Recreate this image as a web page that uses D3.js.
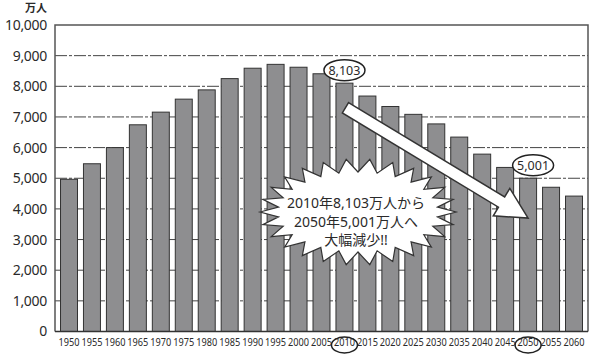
<!DOCTYPE html>
<html><head><meta charset="utf-8">
<script src="https://cdn.jsdelivr.net/npm/d3@7"></script>
<style>body{margin:0;background:#fff}</style></head>
<body>
<svg id="c" width="600" height="360"></svg>
<script>
const years = [1950,1955,1960,1965,1970,1975,1980,1985,1990,1995,2000,2005,2010,2015,2020,2025,2030,2035,2040,2045,2050,2055,2060];
const population = [4966,5473,6000,6744,7157,7581,7883,8251,8590,8716,8622,8409,8103,7682,7341,7085,6773,6343,5787,5353,5001,4706,4418];
const yTicks = [0,1000,2000,3000,4000,5000,6000,7000,8000,9000,10000];
const unitLabel = "万人";
const calloutLines = ["2010年8,103万人から","2050年5,001万人へ","大幅減少!!"];
const highlightYears = [2010, 2050];

const svg = d3.select("#c");
const L = 55, R = 588, T = 25, B = 331.5;
const x = d3.scaleBand().domain(years).range([L, R]).paddingInner(0.26).paddingOuter(0.24);
const y = d3.scaleLinear().domain([0, 10000]).range([B, T]);
const FONT = "'Noto Sans','Noto Sans CJK JP',sans-serif";
const ink = "#2a2a2a";

// gridlines
svg.append("g").selectAll("line").data(yTicks.filter(d => d > 0 && d < 10000)).join("line")
  .attr("x1", L).attr("x2", R).attr("y1", d => y(d)).attr("y2", d => y(d))
  .attr("stroke", "#444").attr("stroke-width", 1).attr("stroke-dasharray", "12,2,3,2");

// frame
svg.append("path").attr("d", `M${L},${B}V${T}H${R}V${B}`).attr("fill", "none")
  .attr("stroke", "#555").attr("stroke-width", 1.5);

// bars
svg.append("g").selectAll("rect").data(years).join("rect")
  .attr("x", d => x(d)).attr("width", x.bandwidth())
  .attr("y", (d, i) => y(population[i])).attr("height", (d, i) => B - y(population[i]))
  .attr("fill", "#8e8e90").attr("stroke", "#333").attr("stroke-width", 1);

// baseline
svg.append("line").attr("x1", L).attr("x2", R).attr("y1", B).attr("y2", B).attr("stroke", "#333").attr("stroke-width", 1.5);

// y axis labels
const ya = svg.append("g").attr("transform", `translate(${L},0)`)
  .call(d3.axisLeft(y).tickValues(yTicks).tickSize(0).tickPadding(8).tickFormat(d3.format(",")));
ya.select(".domain").remove();
ya.selectAll("text").attr("font-family", FONT).attr("font-size", 14).attr("fill", ink).attr("letter-spacing", "-0.3");

svg.append("text").attr("x", 47).attr("y", 12).attr("text-anchor", "end")
  .attr("font-family", FONT).attr("font-size", 11).attr("font-weight", "bold").attr("fill", ink).text(unitLabel);

// x axis labels
const xa = svg.append("g").attr("transform", `translate(0,${B})`)
  .call(d3.axisBottom(x).tickSize(0).tickPadding(7));
xa.select(".domain").remove();
xa.selectAll("text").attr("font-family", FONT).attr("font-size", 10.5).attr("fill", ink)
  .attr("textLength", 21).attr("lengthAdjust", "spacingAndGlyphs");

// ellipses around highlighted years on axis
svg.append("g").selectAll("ellipse").data(highlightYears).join("ellipse")
  .attr("cx", d => x(d) + x.bandwidth() / 2).attr("cy", B + 13.5).attr("rx", 13).attr("ry", 8)
  .attr("fill", "none").attr("stroke", "#222").attr("stroke-width", 1.5);

// arrow
const i0 = years.indexOf(2010), i1 = years.indexOf(2050);
const tail = [x(2010) + x.bandwidth() / 2 + 1, y(7300)];
const tip = [x(2050) + x.bandwidth() / 2, y(3700)];
const dx = tip[0] - tail[0], dy = tip[1] - tail[1], len = Math.hypot(dx, dy);
const ux = dx / len, uy = dy / len, nx = -uy, ny = ux;
const sw = 6, hw = 16, hl = 31;
const P = (a, b) => [tail[0] + ux * a + nx * b, tail[1] + uy * a + ny * b];
const arrowPts = [P(0, -sw), P(len - hl, -sw), P(len - hl, -hw), P(len, 0), P(len - hl, hw), P(len - hl, sw), P(0, sw)];
svg.append("path").attr("d", "M" + arrowPts.map(p => p.join(",")).join("L") + "Z")
  .attr("fill", "#fff").attr("stroke", "#333").attr("stroke-width", 1.5).attr("stroke-linejoin", "miter");

// starburst callout
const cx = 358, cy = 212;
const nSp = 26;
const burst = [];
for (let k = 0; k < nSp * 2; k++) {
  const a = Math.PI + k * Math.PI / nSp;
  const outer = k % 2 === 0;
  const rx = outer ? 98 : 80, ry = outer ? 53 : 40;
  burst.push([cx + rx * Math.cos(a), cy + ry * Math.sin(a)]);
}
svg.append("path").attr("d", "M" + burst.map(p => p.join(",")).join("L") + "Z")
  .attr("fill", "#fff").attr("stroke", "#333").attr("stroke-width", 1.2);

svg.append("g").selectAll("text").data(calloutLines).join("text")
  .attr("x", 356).attr("y", (d, i) => 208 + i * 18.5).attr("text-anchor", "middle")
  .attr("font-family", FONT).attr("font-size", 14).attr("fill", ink).text(d => d);

// value callouts
[[i0, 0], [i1, 5]].forEach(([i, off]) => {
  const cxv = x(years[i]) + x.bandwidth() / 2 + off;
  const cyv = y(population[i]) - 13;
  svg.append("ellipse").attr("cx", cxv).attr("cy", cyv).attr("rx", 20.5).attr("ry", 10.5)
    .attr("fill", "#fff").attr("stroke", "#222").attr("stroke-width", 1.5);
  svg.append("text").attr("x", cxv).attr("y", cyv + 4.5).attr("text-anchor", "middle")
    .attr("font-family", FONT).attr("font-size", 12.5).attr("fill", ink).text(d3.format(",")(population[i]));
});
</script>
</body></html>
